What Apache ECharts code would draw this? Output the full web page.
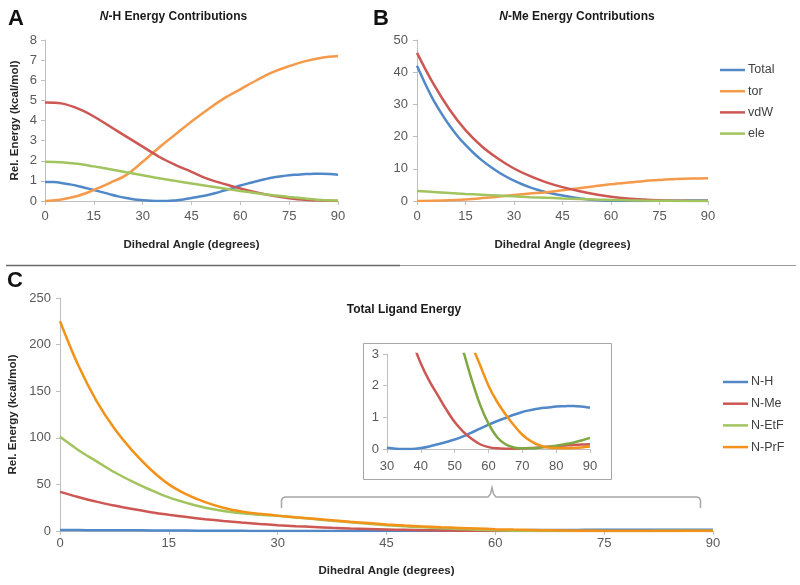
<!DOCTYPE html>
<html><head><meta charset="utf-8">
<script src="https://cdn.jsdelivr.net/npm/echarts@6.0.0/dist/echarts.min.js"></script>
<style>html,body{margin:0;padding:0;background:#fff}#c{width:800px;height:585px}</style>
</head><body><div id="c"></div>
<script>
// ---------- data ----------
const angles5 = [0,5,10,15,20,25,30,35,40,45,50,55,60,65,70,75,80,85,90];
const angles25 = [0,2.5,5,7.5,10,12.5,15,17.5,20,22.5,25,27.5,30,32.5,35,37.5,40,42.5,45,47.5,50,52.5,55,57.5,60,62.5,65,67.5,70,72.5,75,77.5,80,82.5,85,87.5,90];
const legendB = ['Total','tor','vdW','ele'];
const legendC = ['N-H','N-Me','N-EtF','N-PrF'];

// Panel A (N-H contributions)
const totalNH = [0.95,0.94,0.9,0.83,0.75,0.65,0.55,0.44,0.33,0.23,0.15,0.08,0.04,0.01,0.0,0.0,0.03,0.08,0.15,0.22,0.3,0.4,0.52,0.64,0.77,0.88,0.98,1.08,1.17,1.23,1.28,1.31,1.34,1.35,1.36,1.34,1.3];
const torA = [0,0.08,0.25,0.55,0.9,1.3,1.95,2.65,3.3,3.95,4.55,5.1,5.55,6.0,6.4,6.7,6.95,7.12,7.2];
const vdwA = [4.9,4.85,4.6,4.2,3.7,3.2,2.7,2.2,1.8,1.45,1.1,0.85,0.62,0.42,0.26,0.14,0.06,0.02,0];
const eleA = [1.95,1.93,1.85,1.72,1.58,1.43,1.28,1.13,1.0,0.87,0.74,0.62,0.5,0.39,0.29,0.2,0.12,0.05,0.02];

// Panel B (N-Me contributions)
const totalNMe = [42,36.5,31.5,27.3,23.5,20.2,17.4,14.9,12.7,10.8,9.1,7.6,6.3,5.2,4.25,3.4,2.7,2.15,1.7,1.25,0.85,0.55,0.32,0.15,0.06,0.02,0.01,0.01,0.02,0.03,0.05,0.07,0.09,0.11,0.13,0.14,0.15];
const torB = [0,0.05,0.2,0.5,0.9,1.35,1.85,2.3,2.75,3.35,3.95,4.6,5.2,5.7,6.15,6.5,6.8,7.0,7.1];
const vdwB = [46,36.5,28.5,22,17,13.2,10.1,7.7,5.8,4.3,3.1,2.1,1.35,0.8,0.45,0.22,0.1,0.03,0];
const eleB = [3.1,2.8,2.5,2.2,1.95,1.7,1.45,1.2,1.0,0.8,0.62,0.46,0.33,0.22,0.13,0.07,0.03,0.01,0];

// Panel C (total ligand energy)
const totalNEtF = [101,87,75,63,53,44,36,30,25,21.5,19,17.5,16.3,14.5,12.8,11,9.3,7.7,6.3,5.0,3.9,3.1,2.2,1.4,0.8,0.38,0.15,0.05,0.02,0.02,0.04,0.07,0.1,0.15,0.2,0.27,0.35];
const totalNPrF = [225,178,140,110,86,66,50,39,31,25,21,18.5,16.5,14.8,13.2,11.6,10,8.5,7.1,5.9,4.9,4.0,3.3,2.65,2.0,1.5,1.1,0.75,0.45,0.25,0.12,0.05,0.03,0.02,0.03,0.05,0.08];

// ---------- build ----------
const FONT = 'Arial, "Liberation Sans", Helvetica, sans-serif';
const C_BLUE = '#5088C8', C_ORANGE = '#F59A4A', C_RED = '#CC5753', C_GREEN = '#A2C45E';
const C_PRF = '#F39219', C_GREEN_IN = '#7FA843';
const AXIS_COL = '#BFBFBF', LAB_COL = '#595959';

const pairs = (xs, ys) => xs.map((x, i) => [x, ys[i]]);
const insetPairs = (xs, ys) => pairs(xs, ys).filter(p => p[0] >= 30);

function lab(margin) {
  return { color: LAB_COL, fontSize: 13, fontFamily: FONT, margin, showMinLabel: true, showMaxLabel: true };
}
function xAx(gi, min, max, interval, opt) {
  return Object.assign({
    type: 'value', gridIndex: gi, min, max, interval,
    axisLine: { show: true, onZero: false, lineStyle: { color: AXIS_COL, width: 1 } },
    axisTick: { show: true, length: 4, inside: false, lineStyle: { color: AXIS_COL } },
    splitLine: { show: false },
    axisLabel: lab(8),
    nameLocation: 'middle',
    nameTextStyle: { color: '#262626', fontWeight: 'bold', fontSize: 11.5, fontFamily: FONT }
  }, opt || {});
}
function yAx(gi, min, max, interval, opt) {
  return Object.assign({
    type: 'value', gridIndex: gi, min, max, interval,
    axisLine: { show: true, lineStyle: { color: AXIS_COL, width: 1 } },
    axisTick: { show: true, length: 4, inside: false, lineStyle: { color: AXIS_COL } },
    splitLine: { show: false },
    axisLabel: lab(8),
    nameLocation: 'middle', nameRotate: 90,
    nameTextStyle: { color: '#262626', fontWeight: 'bold', fontSize: 11.5, fontFamily: FONT }
  }, opt || {});
}
function line(name, gi, data, color, z) {
  return {
    type: 'line', name, xAxisIndex: gi, yAxisIndex: gi, data,
    smooth: 0.35, symbol: 'none', showSymbol: false, clip: true,
    lineStyle: { width: 2.5, color }, itemStyle: { color },
    emphasis: { disabled: true }, z: z || 2, silent: true
  };
}
function legend(names, left, top, gap) {
  return {
    data: names.map(n => ({ name: n, icon: 'rect' })), orient: 'vertical', left, top, padding: 0,
    itemWidth: 25, itemHeight: 2.5, itemGap: gap,
    textStyle: { color: '#404040', fontSize: 12.5, fontFamily: FONT, lineHeight: 14, padding: [0, 0, 0, -2] },
    selectedMode: false
  };
}

const grids = [
  { left: 45, top: 40, width: 293, height: 161 },
  { left: 417, top: 40, width: 291, height: 161 },
  { left: 60, top: 298, width: 653, height: 233 },
  { left: 387, top: 354, width: 203, height: 95 }
].map(g => Object.assign({ containLabel: false, outerBoundsMode: 'none', show: false }, g));

const option = {
  animation: false,
  backgroundColor: '#ffffff',
  grid: grids,
  xAxis: [
    xAx(0, 0, 90, 15, { name: 'Dihedral Angle (degrees)', nameGap: 38, axisLabel: lab(9) }),
    xAx(1, 0, 90, 15, { name: 'Dihedral Angle (degrees)', nameGap: 38, axisLabel: lab(9) }),
    xAx(2, 0, 90, 15, { name: 'Dihedral Angle (degrees)', nameGap: 34, axisLabel: lab(6) }),
    xAx(3, 30, 90, 10, { axisLabel: lab(11) })
  ],
  yAxis: [
    yAx(0, 0, 8, 1, { name: 'Rel. Energy (kcal/mol)', nameGap: 24 }),
    yAx(1, 0, 50, 10, { axisLabel: lab(9) }),
    yAx(2, 0, 250, 50, { name: 'Rel. Energy (kcal/mol)', nameGap: 39, axisLabel: lab(9) }),
    yAx(3, 0, 3, 1, { axisLabel: lab(8) })
  ],
  legend: [
    legend(legendB, 720, 63, 7.2),
    legend(legendC, 723, 375, 7.7)
  ],
  series: [
    // A
    line('Total', 0, pairs(angles25, totalNH), C_BLUE),
    line('tor', 0, pairs(angles5, torA), C_ORANGE),
    line('vdW', 0, pairs(angles5, vdwA), C_RED),
    line('ele', 0, pairs(angles5, eleA), C_GREEN),
    // B
    line('Total', 1, pairs(angles25, totalNMe), C_BLUE),
    line('tor', 1, pairs(angles5, torB), C_ORANGE),
    line('vdW', 1, pairs(angles5, vdwB), C_RED),
    line('ele', 1, pairs(angles5, eleB), C_GREEN),
    // C
    line('N-H', 2, pairs(angles25, totalNH), C_BLUE),
    line('N-Me', 2, pairs(angles25, totalNMe), C_RED),
    line('N-EtF', 2, pairs(angles25, totalNEtF), C_GREEN),
    line('N-PrF', 2, pairs(angles25, totalNPrF), C_PRF),
    // inset
    line('N-H', 3, insetPairs(angles25, totalNH), C_BLUE, 5),
    line('N-Me', 3, insetPairs(angles25, totalNMe), C_RED, 5),
    line('N-EtF', 3, insetPairs(angles25, totalNEtF), C_GREEN_IN, 5),
    line('N-PrF', 3, insetPairs(angles25, totalNPrF), C_PRF, 5)
  ],
  graphic: [
    { type: 'text', x: 16, y: 19, style: { text: 'A', font: 'bold 22px ' + FONT, fill: '#111', textAlign: 'center', textVerticalAlign: 'middle' } },
    { type: 'text', x: 381, y: 19, style: { text: 'B', font: 'bold 22px ' + FONT, fill: '#111', textAlign: 'center', textVerticalAlign: 'middle' } },
    { type: 'text', x: 15, y: 281, style: { text: 'C', font: 'bold 22px ' + FONT, fill: '#111', textAlign: 'center', textVerticalAlign: 'middle' } },
    { type: 'text', x: 173.5, y: 17, style: { text: '{i|N}-H Energy Contributions', font: 'bold 12px ' + FONT, fill: '#1a1a1a', textAlign: 'center', textVerticalAlign: 'middle',
        rich: { i: { fontStyle: 'italic', fontWeight: 'bold', fontSize: 12, fontFamily: FONT, fill: '#1a1a1a' } } } },
    { type: 'text', x: 577, y: 17, style: { text: '{i|N}-Me Energy Contributions', font: 'bold 12px ' + FONT, fill: '#1a1a1a', textAlign: 'center', textVerticalAlign: 'middle',
        rich: { i: { fontStyle: 'italic', fontWeight: 'bold', fontSize: 12, fontFamily: FONT, fill: '#1a1a1a' } } } },
    { type: 'text', x: 404, y: 310, style: { text: 'Total Ligand Energy', font: 'bold 12px ' + FONT, fill: '#1a1a1a', textAlign: 'center', textVerticalAlign: 'middle' } },
    { type: 'line', shape: { x1: 6, y1: 265.5, x2: 400, y2: 265.5 }, style: { stroke: '#6a6a6a', lineWidth: 1.5 } },
    { type: 'line', shape: { x1: 400, y1: 265.5, x2: 796, y2: 265.5 }, style: { stroke: '#9a9a9a', lineWidth: 1 } },
    { type: 'rect', shape: { x: 363.5, y: 343.5, width: 248, height: 136 }, style: { fill: null, stroke: '#A6A6A6', lineWidth: 1 }, z: 1 },
    { type: 'polyline', shape: { points: [[281.5,508],[281.5,500.5],[282.5,498],[285,497],[488,497],[490.5,494],[492,487.5],[493.5,494],[496,497],[697,497],[699.5,498],[700.5,500.5],[700.5,508]] },
      style: { stroke: '#A6A6A6', lineWidth: 1.5, fill: null } }
  ]
};

const chart = echarts.init(document.getElementById('c'), null, { renderer: 'canvas' });
chart.setOption(option);
</script>
</body></html>
